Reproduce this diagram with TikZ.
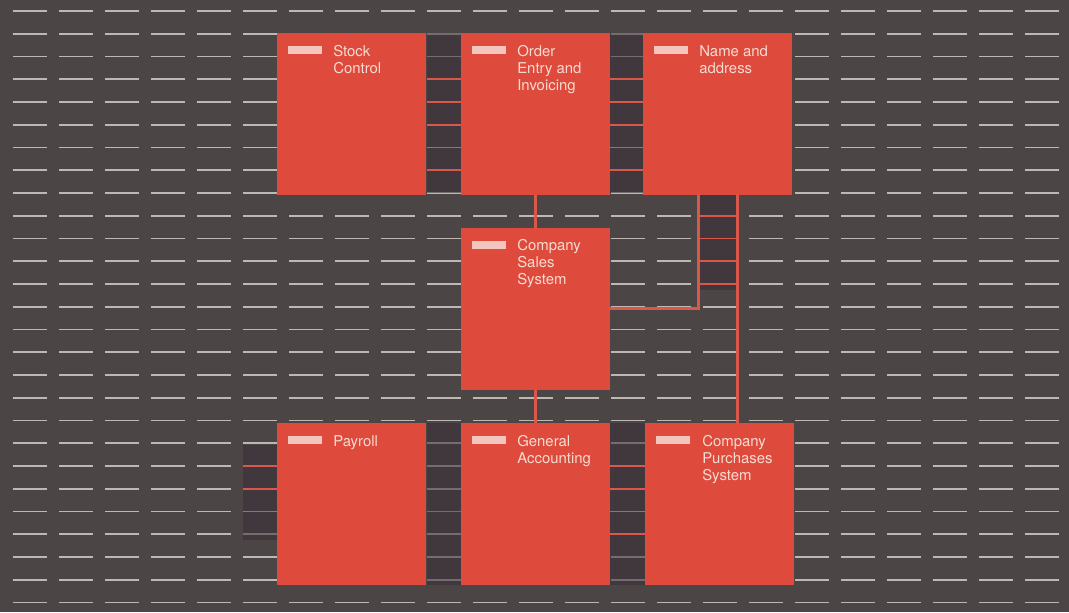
\documentclass[tikz,border=0pt]{standalone}
\usepackage{fontspec}
\setmainfont{TeX Gyre Heros}
\usetikzlibrary{positioning,calc}
\definecolor{fondo}{HTML}{4B4545}
\definecolor{hueco}{HTML}{3A2E38}
\definecolor{raya}{HTML}{BDB8B2}
\definecolor{rojo}{HTML}{DE4A3B}
\definecolor{enlacerojo}{HTML}{D9584A}
\definecolor{rotulo}{HTML}{F7DCD2}
\definecolor{etiqueta}{HTML}{F2C6BE}
\tikzset{
  sistema/.style={fill=rojo, minimum width=3.72cm, minimum height=4.03cm,
    inner sep=0pt, anchor=north west},
  rotulo/.style={text=rotulo, anchor=north west, align=left, inner sep=0pt,
    font=\fontsize{10.6}{12}\selectfont},
  enlace/.style={draw=enlacerojo, line width=2.2pt},
  raya fondo/.style={draw=raya, line width=1.4pt},
  hueco oscuro/.style={fill=hueco, fill opacity=0.55},
  peldano/.style={draw=enlacerojo, line width=1.4pt}
}
\begin{document}
\begin{tikzpicture}[x=0.025cm, y=-0.025cm]
        % Fondo
        \fill[fondo] (0,0) rectangle (1069,612);
        \useasboundingbox (0,0) rectangle (1069,612);
        \foreach \r in {0,...,26}
            \foreach \k in {0,...,22}
                \draw[raya fondo] (13+46*\k, 11+22.75*\r) -- ++(34,0);

        % Huecos entre sistemas
        \fill[hueco oscuro] (427,33) rectangle (461,193);
        \fill[hueco oscuro] (609,33) rectangle (643,193);
        \fill[hueco oscuro] (427,423) rectangle (461,585);
        \fill[hueco oscuro] (609,423) rectangle (645,585);
        \fill[hueco oscuro] (243,445) rectangle (277,540);
        \fill[hueco oscuro] (698,193) rectangle (737,290);
        \foreach \r in {3,...,7} {
            \draw[peldano] (427, 11+22.75*\r) -- ++(34,0);
            \draw[peldano] (609, 11+22.75*\r) -- ++(34,0);
        }
        \foreach \r in {20,...,23}
            \draw[peldano] (609, 11+22.75*\r) -- ++(36,0);
        \foreach \r in {20,...,22}
            \draw[peldano] (243, 11+22.75*\r) -- ++(34,0);

        % Sistemas
        \node[sistema] (stock) at (277,33) {};
        \node[sistema] (order) at (461,33) {};
        \node[sistema] (names) at (643,33) {};
        \node[sistema] (sales) at (461,228) {};
        \node[sistema] (payroll) at (277,423) {};
        \node[sistema] (accounts) at (461,423) {};
        \node[sistema] (purchases) at (645,423) {};

        % Etiquetas
        \foreach \b in {stock,order,names,sales,payroll,accounts,purchases}
            \fill[etiqueta] ($(\b.north west)+(11,13)$) rectangle ++(34,8);
        \node[rotulo] (stocktext) at ($(stock.north west)+(56,12)$) {Stock\\Control};
        \node[rotulo] (ordertext) at ($(order.north west)+(56,12)$) {Order\\Entry and\\Invoicing};
        \node[rotulo] (namestext) at ($(names.north west)+(56,12)$) {Name and\\address};
        \node[rotulo] (salestext) at ($(sales.north west)+(56,11)$) {Company\\Sales\\System};
        \node[rotulo] (payrolltext) at ($(payroll.north west)+(56,12)$) {Payroll};
        \node[rotulo] (accountstext) at ($(accounts.north west)+(56,12)$) {General\\Accounting};
        \node[rotulo] (purchasestext) at ($(purchases.north west)+(57,12)$) {Company\\Purchases\\System};

        % Enlaces
        \coordinate (tapin) at ($(names.south)+(-19,0)$);
        \coordinate (tapout) at ($(names.south)+(20,0)$);
        \draw[enlace] (order.south) -- (sales.north);
        \draw[enlace] (sales.south) -- (accounts.north);
        \draw[enlace] (sales.east) -| (tapin);
        \draw[enlace] (tapout) -- (tapout |- purchases.north);
        \foreach \r in {9,...,12}
            \draw[peldano] (tapin |- {0,11+22.75*\r}) -- (tapout |- {0,11+22.75*\r});
    \end{tikzpicture}
\end{document}
